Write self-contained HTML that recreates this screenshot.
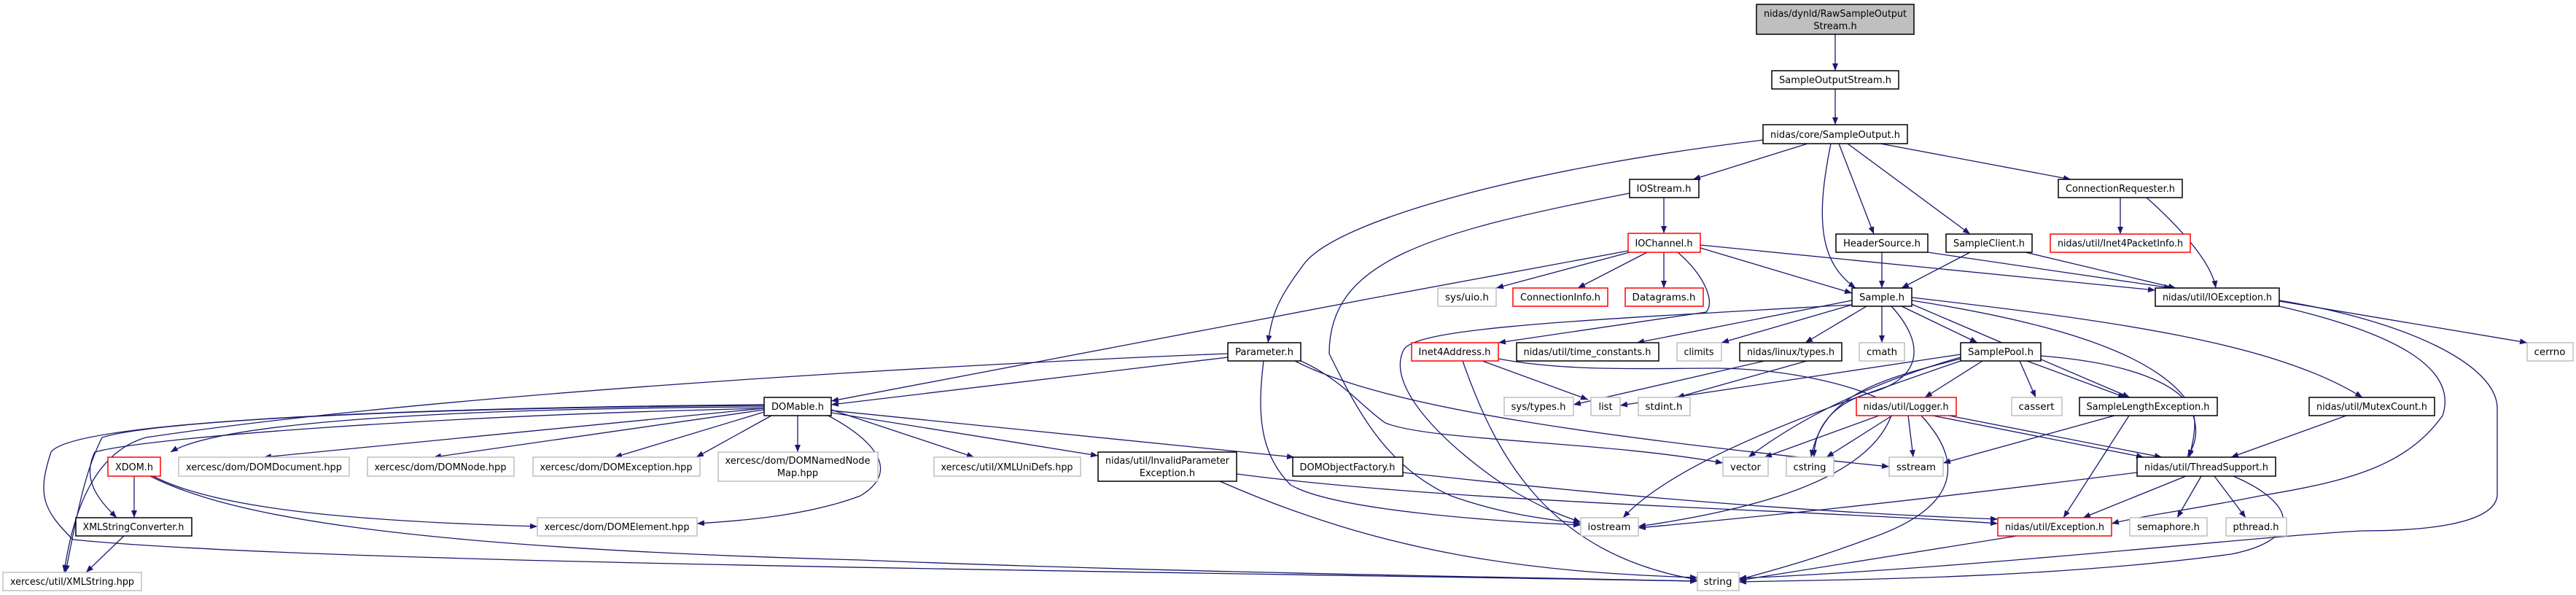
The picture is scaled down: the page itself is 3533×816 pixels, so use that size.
<!DOCTYPE html>
<html><head><meta charset="utf-8"><style>
html,body{margin:0;padding:0;background:#fff;}
svg{display:block;}
text{font-family:"DejaVu Sans","Liberation Sans",sans-serif;font-size:13px;fill:#000;}
.e{fill:none;stroke:#191970;stroke-width:1.3;}
.b{fill:#fff;stroke:#000;stroke-width:1.5;}
.g{fill:#fff;stroke:#bfbfbf;stroke-width:1.5;}
.r{fill:#fff;stroke:#ff0000;stroke-width:1.5;}
.t{fill:#bfbfbf;stroke:#000;stroke-width:1.5;}
</style></head><body>
<svg width="3533" height="816" viewBox="0 0 3533 816" xmlns="http://www.w3.org/2000/svg">
<defs><marker id="a" markerUnits="userSpaceOnUse" markerWidth="11" markerHeight="8" refX="10" refY="4" orient="auto"><path d="M0,0 L10,4 L0,8 z" fill="#191970"/></marker></defs>
<g class="e" marker-end="url(#a)">
<path d="M2517,47 L2517,97"/>
<path d="M2517,122 L2517,171"/>
<path d="M2479,197 L2322,246"/>
<path d="M2418,192 C2100,230 1840,300 1790,360 C1752,410 1745,430 1739,470"/>
<path d="M2511,197 C2490,300 2495,360 2545,395"/>
<path d="M2522,197 L2570,321"/>
<path d="M2534,197 L2702,321"/>
<path d="M2579,197 L2840,246"/>
<path d="M2908,271 L2908,321"/>
<path d="M2944,271 C3010,330 3035,370 3039,395"/>
<path d="M2581,346 L2581,395"/>
<path d="M2644,346 L2978,395"/>
<path d="M2702,346 L2608,395"/>
<path d="M2778,346 L2984,395"/>
<path d="M2282,271 L2282,320"/>
<path d="M2235,265 C1950,320 1823,360 1823,485 C1860,560 1900,640 1990,680 C2060,705 2120,712 2168,718"/>
<path d="M2235,346 L2052,395"/>
<path d="M2259,346 L2164,395"/>
<path d="M2282,346 L2282,395"/>
<path d="M2332,340 L2540,402"/>
<path d="M2332,336 L2956,398"/>
<path d="M2233,344 L1887,408 L1140,550"/>
<path d="M2301,346 C2340,380 2352,415 2340,428 L2055,470"/>
<path d="M2540,412 L2245,470"/>
<path d="M2540,418 L2361,470"/>
<path d="M2560,420 L2476,470"/>
<path d="M2581,420 L2581,470"/>
<path d="M2608,420 L2712,470"/>
<path d="M2540,418 C2150,440 1940,450 1925,480 C1900,530 1980,610 2070,670 C2120,700 2150,710 2168,716"/>
<path d="M2594,420 C2640,470 2640,520 2560,540 C2500,560 2488,600 2488,627"/>
<path d="M2617,415 L2921,545"/>
<path d="M2622,412 C2800,440 2950,480 3000,550 C3020,590 3010,610 3000,627"/>
<path d="M2622,408 C2900,440 3120,470 3240,545"/>
<path d="M2420,495 L2158,555"/>
<path d="M2478,495 L2300,545"/>
<path d="M2689,486 L2222,556"/>
<path d="M2689,490 C2550,530 2460,580 2398,627"/>
<path d="M2689,492 C2580,520 2500,540 2484,627"/>
<path d="M2689,495 C2500,560 2300,630 2226,710"/>
<path d="M2719,495 L2640,545"/>
<path d="M2770,495 L2792,545"/>
<path d="M2780,495 L2915,545"/>
<path d="M2799,488 C2950,500 3010,540 3010,580 C3010,600 3005,615 3003,627"/>
<path d="M2577,570 L2420,627"/>
<path d="M2595,570 L2505,627"/>
<path d="M2617,570 L2624,627"/>
<path d="M2673,570 L2965,627"/>
<path d="M2594,570 C2560,660 2400,700 2247,722"/>
<path d="M2635,570 C2700,640 2680,700 2560,740 C2480,770 2420,785 2385,795"/>
<path d="M2900,570 L2665,635"/>
<path d="M2920,570 L2830,710"/>
<path d="M3218,570 L3060,627"/>
<path d="M2931,648 C2600,690 2400,710 2247,724"/>
<path d="M2998,653 L2857,710"/>
<path d="M3019,653 L2986,710"/>
<path d="M3037,653 L3080,710"/>
<path d="M3063,653 C3150,690 3160,740 3060,760 C2800,795 2500,795 2385,798"/>
<path d="M3126,413 L3466,470"/>
<path d="M3126,420 C3300,460 3370,510 3350,570 C3300,640 3220,660 3100,680 C3000,700 2950,705 2896,718"/>
<path d="M3126,412 C3300,440 3425,500 3425,560 L3425,680 C3420,720 3320,728 3240,728 C3100,735 2700,780 2385,793"/>
<path d="M2766,735 L2385,796"/>
<path d="M1684,485 C1300,500 600,540 200,600 C130,620 100,700 88,785"/>
<path d="M1684,490 L1140,555"/>
<path d="M1784,495 C1840,520 1870,560 1900,580 C1960,605 2200,605 2363,635"/>
<path d="M1776,495 C1900,560 2200,600 2591,640"/>
<path d="M1733,495 C1725,560 1725,620 1770,665 C1830,700 2050,715 2168,720"/>
<path d="M2055,492 C2150,510 2260,505 2353,505 C2450,505 2560,530 2600,560 L2940,627"/>
<path d="M2033,495 L2178,548"/>
<path d="M2006,495 C2050,620 2120,760 2328,795"/>
<path d="M1048,558 C600,560 300,580 234,620"/>
<path d="M1048,560 L362,627"/>
<path d="M1048,562 L595,627"/>
<path d="M1048,565 L843,627"/>
<path d="M1058,570 L955,627"/>
<path d="M1094,570 L1094,620"/>
<path d="M1140,562 L1336,627"/>
<path d="M1140,566 L1506,625"/>
<path d="M1140,563 L1775,627"/>
<path d="M1136,570 C1210,610 1230,650 1180,680 C1100,710 1000,715 956,718"/>
<path d="M1048,556 C500,560 200,580 140,600 C120,640 110,680 90,785"/>
<path d="M1048,555 C500,560 100,580 70,620 C50,680 60,700 100,740 C400,770 1300,780 2328,797"/>
<path d="M1048,560 C600,570 200,600 130,620 C110,660 140,690 160,710"/>
<path d="M184,653 L184,710"/>
<path d="M210,653 C300,700 500,715 737,722"/>
<path d="M206,653 C300,700 500,750 1180,768 C1600,785 2100,792 2328,797"/>
<path d="M170,735 L118,785"/>
<path d="M1696,650 C2000,690 2500,700 2740,718"/>
<path d="M1673,660 C1900,760 2100,785 2328,792"/>
<path d="M1924,648 C2300,690 2550,705 2740,712"/>
</g>
<rect class="t" x="2409" y="6" width="216" height="41"/>
<text x="2517" y="23" text-anchor="middle" textLength="196" lengthAdjust="spacingAndGlyphs">nidas/dynld/RawSampleOutput</text>
<text x="2517" y="40" text-anchor="middle">Stream.h</text>
<rect class="g" x="985" y="620" width="219" height="40"/>
<rect class="b" x="1506" y="620" width="190" height="40"/>
<text x="1094" y="636" text-anchor="middle" textLength="199" lengthAdjust="spacingAndGlyphs">xercesc/dom/DOMNamedNode</text>
<text x="1094" y="653" text-anchor="middle">Map.hpp</text>
<text x="1601" y="636" text-anchor="middle" textLength="170" lengthAdjust="spacingAndGlyphs">nidas/util/InvalidParameter</text>
<text x="1601" y="653" text-anchor="middle">Exception.h</text>
<g id="n">
<rect class="b" x="2430" y="97" width="174" height="25"/><text x="2517" y="114" text-anchor="middle" textLength="154" lengthAdjust="spacingAndGlyphs">SampleOutputStream.h</text>
<rect class="b" x="2418" y="171" width="198" height="26"/><text x="2517" y="189" text-anchor="middle" textLength="178" lengthAdjust="spacingAndGlyphs">nidas/core/SampleOutput.h</text>
<rect class="b" x="2235" y="246" width="95" height="25"/><text x="2282" y="263" text-anchor="middle" textLength="75" lengthAdjust="spacingAndGlyphs">IOStream.h</text>
<rect class="b" x="2823" y="246" width="170" height="25"/><text x="2908" y="263" text-anchor="middle" textLength="150" lengthAdjust="spacingAndGlyphs">ConnectionRequester.h</text>
<rect class="r" x="2233" y="320" width="99" height="26"/><text x="2282" y="338" text-anchor="middle" textLength="79" lengthAdjust="spacingAndGlyphs">IOChannel.h</text>
<rect class="b" x="2518" y="321" width="126" height="25"/><text x="2581" y="338" text-anchor="middle" textLength="106" lengthAdjust="spacingAndGlyphs">HeaderSource.h</text>
<rect class="b" x="2669" y="321" width="118" height="25"/><text x="2728" y="338" text-anchor="middle" textLength="98" lengthAdjust="spacingAndGlyphs">SampleClient.h</text>
<rect class="r" x="2812" y="321" width="192" height="25"/><text x="2908" y="338" text-anchor="middle" textLength="172" lengthAdjust="spacingAndGlyphs">nidas/util/Inet4PacketInfo.h</text>
<rect class="g" x="1972" y="395" width="80" height="25"/><text x="2012" y="412" text-anchor="middle" textLength="60" lengthAdjust="spacingAndGlyphs">sys/uio.h</text>
<rect class="r" x="2075" y="395" width="130" height="25"/><text x="2140" y="412" text-anchor="middle" textLength="110" lengthAdjust="spacingAndGlyphs">ConnectionInfo.h</text>
<rect class="r" x="2229" y="395" width="107" height="25"/><text x="2282" y="412" text-anchor="middle" textLength="87" lengthAdjust="spacingAndGlyphs">Datagrams.h</text>
<rect class="b" x="2540" y="395" width="82" height="25"/><text x="2581" y="412" text-anchor="middle" textLength="62" lengthAdjust="spacingAndGlyphs">Sample.h</text>
<rect class="b" x="2956" y="395" width="170" height="25"/><text x="3041" y="412" text-anchor="middle" textLength="150" lengthAdjust="spacingAndGlyphs">nidas/util/IOException.h</text>
<rect class="b" x="1684" y="470" width="100" height="25"/><text x="1734" y="487" text-anchor="middle" textLength="80" lengthAdjust="spacingAndGlyphs">Parameter.h</text>
<rect class="r" x="1936" y="470" width="119" height="25"/><text x="1995" y="487" text-anchor="middle" textLength="99" lengthAdjust="spacingAndGlyphs">Inet4Address.h</text>
<rect class="b" x="2080" y="470" width="195" height="25"/><text x="2177" y="487" text-anchor="middle" textLength="175" lengthAdjust="spacingAndGlyphs">nidas/util/time_constants.h</text>
<rect class="g" x="2300" y="470" width="61" height="25"/><text x="2330" y="487" text-anchor="middle" textLength="41" lengthAdjust="spacingAndGlyphs">climits</text>
<rect class="b" x="2386" y="470" width="140" height="25"/><text x="2456" y="487" text-anchor="middle" textLength="120" lengthAdjust="spacingAndGlyphs">nidas/linux/types.h</text>
<rect class="g" x="2550" y="470" width="62" height="25"/><text x="2581" y="487" text-anchor="middle" textLength="42" lengthAdjust="spacingAndGlyphs">cmath</text>
<rect class="b" x="2689" y="470" width="110" height="25"/><text x="2744" y="487" text-anchor="middle" textLength="90" lengthAdjust="spacingAndGlyphs">SamplePool.h</text>
<rect class="g" x="3466" y="470" width="63" height="25"/><text x="3497" y="487" text-anchor="middle" textLength="43" lengthAdjust="spacingAndGlyphs">cerrno</text>
<rect class="b" x="1048" y="545" width="92" height="25"/><text x="1094" y="562" text-anchor="middle" textLength="72" lengthAdjust="spacingAndGlyphs">DOMable.h</text>
<rect class="g" x="2063" y="545" width="95" height="25"/><text x="2110" y="562" text-anchor="middle" textLength="75" lengthAdjust="spacingAndGlyphs">sys/types.h</text>
<rect class="g" x="2182" y="545" width="40" height="25"/><text x="2202" y="562" text-anchor="middle">list</text>
<rect class="g" x="2247" y="545" width="71" height="25"/><text x="2282" y="562" text-anchor="middle" textLength="51" lengthAdjust="spacingAndGlyphs">stdint.h</text>
<rect class="r" x="2546" y="545" width="137" height="25"/><text x="2614" y="562" text-anchor="middle" textLength="117" lengthAdjust="spacingAndGlyphs">nidas/util/Logger.h</text>
<rect class="g" x="2759" y="545" width="69" height="25"/><text x="2793" y="562" text-anchor="middle" textLength="49" lengthAdjust="spacingAndGlyphs">cassert</text>
<rect class="b" x="2852" y="545" width="189" height="25"/><text x="2946" y="562" text-anchor="middle" textLength="169" lengthAdjust="spacingAndGlyphs">SampleLengthException.h</text>
<rect class="b" x="3167" y="545" width="172" height="25"/><text x="3253" y="562" text-anchor="middle" textLength="152" lengthAdjust="spacingAndGlyphs">nidas/util/MutexCount.h</text>
<rect class="r" x="148" y="627" width="72" height="26"/><text x="184" y="645" text-anchor="middle" textLength="52" lengthAdjust="spacingAndGlyphs">XDOM.h</text>
<rect class="g" x="245" y="627" width="234" height="26"/><text x="362" y="645" text-anchor="middle" textLength="214" lengthAdjust="spacingAndGlyphs">xercesc/dom/DOMDocument.hpp</text>
<rect class="g" x="504" y="627" width="201" height="26"/><text x="604" y="645" text-anchor="middle" textLength="181" lengthAdjust="spacingAndGlyphs">xercesc/dom/DOMNode.hpp</text>
<rect class="g" x="731" y="627" width="229" height="26"/><text x="845" y="645" text-anchor="middle" textLength="209" lengthAdjust="spacingAndGlyphs">xercesc/dom/DOMException.hpp</text>
<rect class="g" x="1281" y="627" width="201" height="26"/><text x="1381" y="645" text-anchor="middle" textLength="181" lengthAdjust="spacingAndGlyphs">xercesc/util/XMLUniDefs.hpp</text>
<rect class="b" x="1773" y="627" width="151" height="26"/><text x="1848" y="645" text-anchor="middle" textLength="131" lengthAdjust="spacingAndGlyphs">DOMObjectFactory.h</text>
<rect class="g" x="2363" y="627" width="62" height="26"/><text x="2394" y="645" text-anchor="middle" textLength="42" lengthAdjust="spacingAndGlyphs">vector</text>
<rect class="g" x="2450" y="627" width="65" height="26"/><text x="2482" y="645" text-anchor="middle" textLength="45" lengthAdjust="spacingAndGlyphs">cstring</text>
<rect class="g" x="2591" y="627" width="74" height="26"/><text x="2628" y="645" text-anchor="middle" textLength="54" lengthAdjust="spacingAndGlyphs">sstream</text>
<rect class="b" x="2931" y="627" width="190" height="26"/><text x="3026" y="645" text-anchor="middle" textLength="170" lengthAdjust="spacingAndGlyphs">nidas/util/ThreadSupport.h</text>
<rect class="b" x="104" y="710" width="159" height="25"/><text x="183" y="727" text-anchor="middle" textLength="139" lengthAdjust="spacingAndGlyphs">XMLStringConverter.h</text>
<rect class="g" x="737" y="710" width="219" height="25"/><text x="846" y="727" text-anchor="middle" textLength="199" lengthAdjust="spacingAndGlyphs">xercesc/dom/DOMElement.hpp</text>
<rect class="g" x="2168" y="710" width="79" height="25"/><text x="2207" y="727" text-anchor="middle" textLength="59" lengthAdjust="spacingAndGlyphs">iostream</text>
<rect class="r" x="2740" y="710" width="156" height="25"/><text x="2818" y="727" text-anchor="middle" textLength="136" lengthAdjust="spacingAndGlyphs">nidas/util/Exception.h</text>
<rect class="g" x="2921" y="710" width="106" height="25"/><text x="2974" y="727" text-anchor="middle" textLength="86" lengthAdjust="spacingAndGlyphs">semaphore.h</text>
<rect class="g" x="3053" y="710" width="83" height="25"/><text x="3094" y="727" text-anchor="middle" textLength="63" lengthAdjust="spacingAndGlyphs">pthread.h</text>
<rect class="g" x="4" y="785" width="190" height="25"/><text x="99" y="802" text-anchor="middle" textLength="170" lengthAdjust="spacingAndGlyphs">xercesc/util/XMLString.hpp</text>
<rect class="g" x="2328" y="785" width="57" height="25"/><text x="2356" y="802" text-anchor="middle" textLength="39" lengthAdjust="spacingAndGlyphs">string</text>
</g>
</svg>
</body></html>
